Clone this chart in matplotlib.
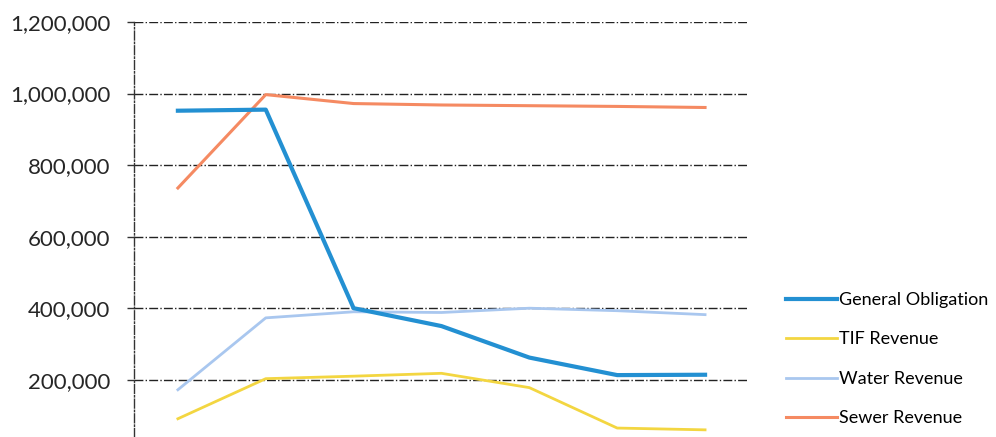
import matplotlib
matplotlib.use('Agg')
import matplotlib.pyplot as plt

# -----------------------------
# DATA
# -----------------------------
periods = [1, 2, 3, 4, 5, 6, 7]
general_obligation = [952000, 955000, 400000, 350000, 262000, 213000, 214000]
tif_revenue = [91000, 203000, 210000, 218000, 178000, 65000, 60000]
water_revenue = [172000, 373000, 390000, 388000, 400000, 393000, 382000]
sewer_revenue = [736000, 997000, 972000, 968000, 966000, 964000, 961000]
y_ticks = [200000, 400000, 600000, 800000, 1000000, 1200000]

plt.rcParams['font.family'] = ['Lato', 'DejaVu Sans']

fig = plt.figure(figsize=(9.96, 4.37), dpi=100)
ax = fig.add_axes([0.1345, 0.0, 0.6175, 0.9497])

ax.plot(periods, general_obligation, color='#2390d2', lw=3.0, label='General Obligation', zorder=4)
ax.plot(periods, tif_revenue, color='#f3d641', lw=2.0, label='TIF Revenue', zorder=3)
ax.plot(periods, water_revenue, color='#a9c7ef', lw=2.0, label='Water Revenue', zorder=3)
ax.plot(periods, sewer_revenue, color='#f58a62', lw=2.2, label='Sewer Revenue', zorder=3)

ax.set_xlim(0.5, 7.5)
ax.set_ylim(40000, 1200000)
ax.set_yticks(y_ticks)
ax.set_yticklabels([f"{v:,}" for v in y_ticks], fontsize=16, color='#262626')
ax.set_xticks([])

# gridlines (dash-dot, like the scan)
ax.grid(axis='y', color='#222222', linestyle='-.', linewidth=1.0)
ax.set_axisbelow(True)

for side in ['top', 'right', 'bottom']:
    ax.spines[side].set_visible(False)
ax.spines['left'].set_linestyle('-.')
ax.spines['left'].set_linewidth(1.0)
ax.spines['left'].set_color('#333333')
ax.tick_params(axis='y', length=5, width=1, color='#333333', pad=12)

fig.legend(loc='center left', bbox_to_anchor=(0.773, 0.178), frameon=False,
           fontsize=13, handlelength=2.8, handletextpad=0.1, labelspacing=1.3)

plt.savefig('out.png', dpi=100)
plt.close()
